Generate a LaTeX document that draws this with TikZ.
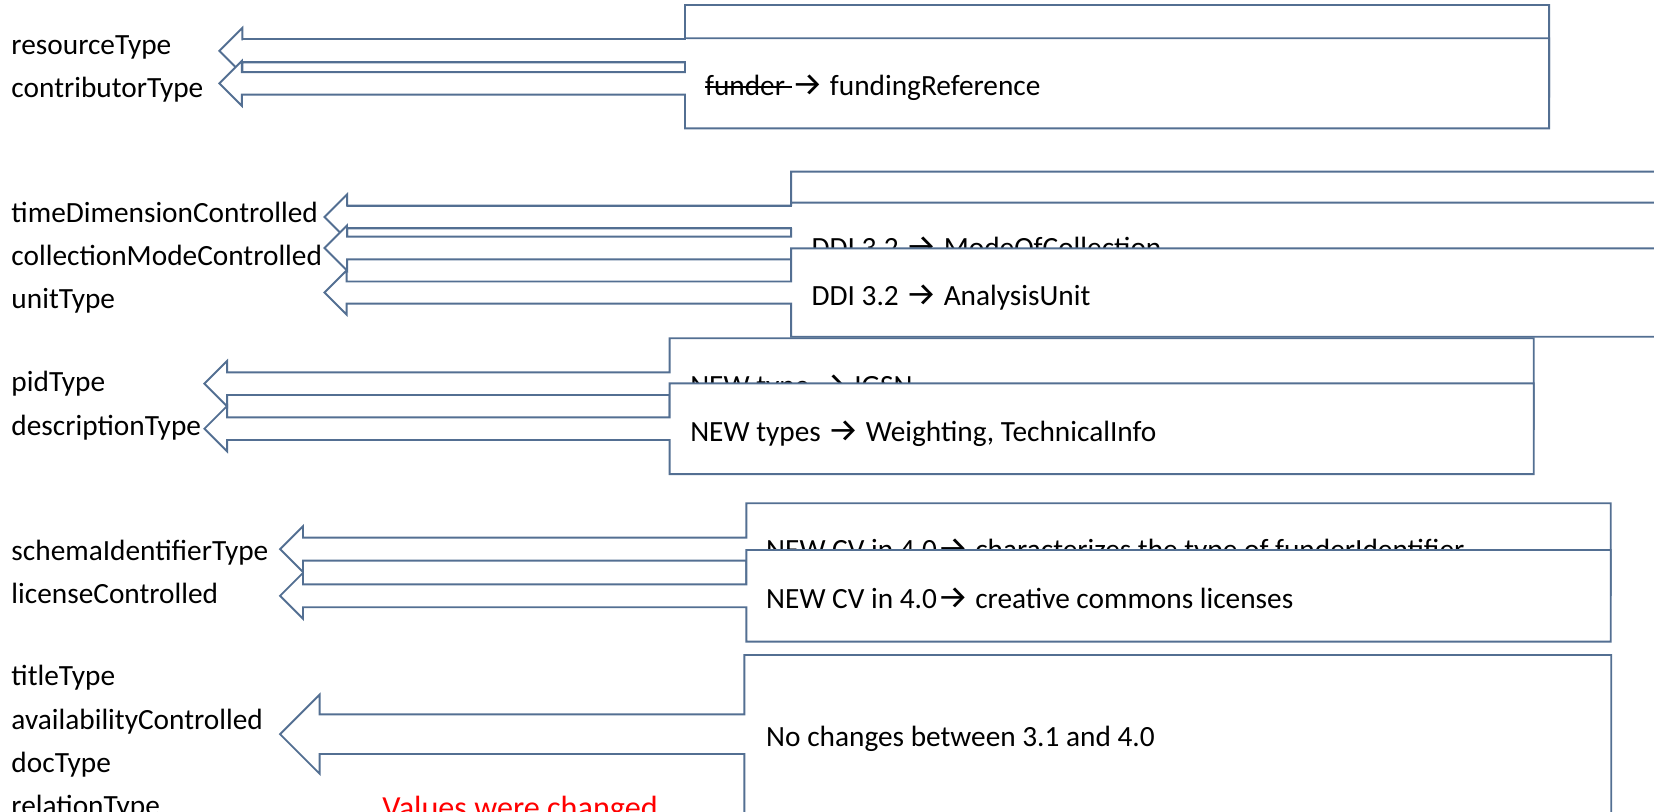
\documentclass[tikz,border=0pt]{standalone}
\usepackage{fontspec}
\usepackage{graphicx}
\setmainfont{Carlito}
\newfontfamily\arrowfont{Fira Sans}
\definecolor{callcol}{HTML}{536F92}
\newsavebox\strkbox
\newcommand{\strk}[1]{\sbox\strkbox{#1}\rlap{\rule[0.26em]{\wd\strkbox}{0.065em}}\usebox\strkbox}
\newcommand{\rarr}{\scalebox{1.2}[1.1]{\arrowfont →}}
% callout: [opts]{tip x}{box left}{box right}{top}{bottom}
\newcommand{\callout}[6][]{%
  \pgfmathsetmacro{\clH}{#6-#5}%
  \pgfmathsetmacro{\clV}{(#5+#6)/2}%
  \pgfmathsetmacro{\clA}{\clH/8}%
  \pgfmathsetmacro{\clB}{\clH/4}%
  \draw[callbox,#1] (#2,\clV) -- (#2+\clB,\clV-\clB) -- (#2+\clB,\clV-\clA) -- (#3,\clV-\clA)
    -- (#3,#5) -- (#4,#5) -- (#4,#6) -- (#3,#6) -- (#3,\clV+\clA) -- (#2+\clB,\clV+\clA)
    -- (#2+\clB,\clV+\clB) -- cycle;%
}
% shaft of an earlier callout shown above the next box edge: {tip x}{box left}{top}{bottom}
\newcommand{\shaftover}[4]{%
  \pgfmathsetmacro{\clH}{#4-#3}%
  \pgfmathsetmacro{\clV}{(#3+#4)/2}%
  \pgfmathsetmacro{\clA}{\clH/8}%
  \pgfmathsetmacro{\clB}{\clH/4}%
  \fill[white] (#1+\clB+1,\clV-\clA) rectangle (#2+1.5,\clV+\clA);%
  \draw[callline] (#1+\clB,\clV-\clA) -- (#2+0.9,\clV-\clA) (#1+\clB,\clV+\clA) -- (#2+0.9,\clV+\clA);%
}
\tikzset{
  callbox/.style={draw=callcol, fill=white, line width=0.9bp, line join=miter},
  callline/.style={draw=callcol, line width=0.9bp},
  lbl/.style={anchor=base west, inner sep=0pt, text=black, font=\fontsize{13.9bp}{16bp}\selectfont},
  redlbl/.style={anchor=base west, inner sep=0pt, text=red, font=\fontsize{15.25bp}{18bp}\selectfont},
}
\begin{document}
\begin{tikzpicture}[x=0.5bp, y=-0.5bp]
\useasboundingbox (0,0) rectangle (1568,769);
\clip (0,0) rectangle (1568,769);
% left labels
\node[lbl] (l1) at (10.5,52) {resourceType};
\node[lbl] (l2) at (10.5,92.5) {contributorType};
\node[lbl] (l3) at (10.5,211) {timeDimensionControlled};
\node[lbl] (l4) at (10.5,252) {collectionModeControlled};
\node[lbl] (l5) at (10.5,292.5) {unitType};
\node[lbl] (l6) at (10.5,371) {pidType};
\node[lbl] (l7) at (10.5,412.5) {descriptionType};
\node[lbl] (l8) at (10.5,531) {schemaIdentifierType};
\node[lbl] (l9) at (10.5,572) {licenseControlled};
\node[lbl] (l10) at (10.5,649.5) {titleType};
\node[lbl] (l11) at (10.5,692) {availabilityControlled};
\node[lbl] (l12) at (10.5,732) {docType};
\node[lbl] (l13) at (10.5,773) {relationType};
\node[redlbl] (red) at (362,776) {Values were changed};
% group A
\callout{208}{649.4}{1468.5}{4.7}{91.7}
\callout{208}{649.4}{1468.5}{36.3}{121.7}
\node[lbl] (ta2) at (668,91) {\strk{funder\ }\rarr{} fundingReference};
\shaftover{208}{649.4}{4.7}{91.7}
% group B
\callout{307.6}{750}{1620}{162.7}{248.7}
\callout{307.6}{750}{1620}{192.1}{278.1}
\node[lbl] (tb2) at (769,243.8) {DDI 3.2 \rarr{} ModeOfCollection};
\callout{307.6}{750}{1620}{235.4}{319.2}
\node[lbl] (tb3) at (769,289.2) {DDI 3.2 \rarr{} AnalysisUnit};
\shaftover{307.6}{750}{162.7}{248.7}
% group C
\callout{193.8}{634.8}{1454}{320.7}{406.7}
\node[lbl] (tc1) at (654,375) {NEW type \rarr{} IGSN};
\callout{193.8}{634.8}{1454}{363.4}{449.4}
\node[lbl] (tc2) at (654,418.5) {NEW types \rarr{} Weighting, TechnicalInfo};
% group D
\callout{265.5}{707.6}{1527}{477.1}{564}
\node[lbl] (td1) at (726,530) {NEW CV in 4.0\rarr{} characterizes the type of funderIdentifier};
\callout{265.5}{707.6}{1527}{521.4}{608.3}
\node[lbl] (td2) at (726,577) {NEW CV in 4.0\rarr{} creative commons licenses};
% group E
\callout{265.5}{705.7}{1527.5}{620.9}{771.1}
\node[lbl] (te) at (726,708) {No changes between 3.1 and 4.0};
\end{tikzpicture}
\end{document}
